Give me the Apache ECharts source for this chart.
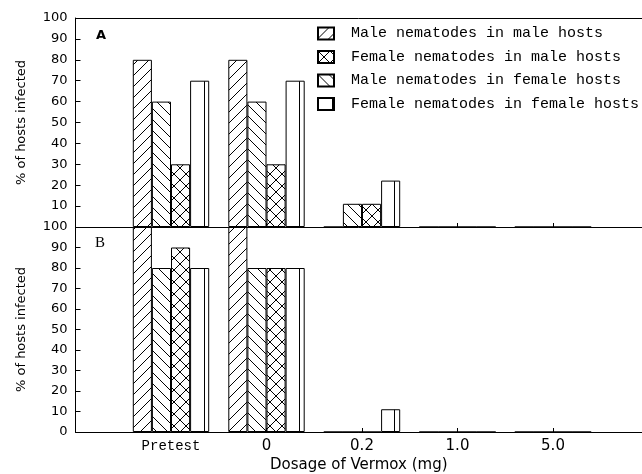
<!DOCTYPE html>
<html>
<head>
<meta charset="utf-8">
<script src="https://cdn.jsdelivr.net/npm/echarts@6/dist/echarts.min.js"></script>
<style>html,body{margin:0;padding:0;background:#fff}#c{width:642px;height:474px}</style>
</head>
<body>
<div id="c"></div>
<script>
// ---- data ----
const categories = ['Pretest', '0', '0.2', '1.0', '5.0'];
const seriesNames = [
  'Male nematodes in male hosts',
  'Female nematodes in male hosts',
  'Male nematodes in female hosts',
  'Female nematodes in female hosts'
];
// Panel A
const A_maleInMale     = [80, 80, 0, 0, 0];
const A_maleInFemale   = [60, 60, 11.1, 0, 0];
const A_femaleInMale   = [30, 30, 11.1, 0, 0];
const A_femaleInFemale = [70, 70, 22.2, 0, 0];
// Panel B
const B_maleInMale     = [100, 100, 0, 0, 0];
const B_maleInFemale   = [80, 80, 0, 0, 0];
const B_femaleInMale   = [90, 80, 0, 0, 0];
const B_femaleInFemale = [80, 80, 11.1, 0, 0];
const yTicks = [0, 10, 20, 30, 40, 50, 60, 70, 80, 90, 100];

// ---- patterns ----
function hatch(type) {
  const s = type === 'x' ? 12 : (type === 'v' ? 19 : 11);
  const c = document.createElement('canvas');
  c.width = s; c.height = s;
  const g = c.getContext('2d');
  g.fillStyle = '#fff'; g.fillRect(0, 0, s, s);
  g.strokeStyle = '#000'; g.lineWidth = 1;
  g.beginPath();
  if (type === '/' || type === 'x') {
    for (const k of [-s, 0, s]) { g.moveTo(k, s); g.lineTo(k + s, 0); }
  }
  if (type === '\\' || type === 'x') {
    for (const k of [-s, 0, s]) { g.moveTo(k, 0); g.lineTo(k + s, s); }
  }
  if (type === 'v') { g.moveTo(14.5, 0); g.lineTo(14.5, s); }
  g.stroke();
  return { image: c, repeat: 'repeat' };
}
const pats = {
  [seriesNames[0]]: hatch('/'),
  [seriesNames[1]]: hatch('x'),
  [seriesNames[2]]: hatch('\\'),
  [seriesNames[3]]: hatch('v')
};

const pts = arr => arr.map((v, i) => [i + 1, v]);
const catPos = categories.map((c, i) => i + 1);
function bar(name, arr, idx) {
  return {
    type: 'bar', name, data: pts(arr),
    xAxisIndex: idx, yAxisIndex: idx,
    barGap: '0%', barCategoryGap: '20%',
    itemStyle: { color: pats[name], borderColor: '#000', borderWidth: 1 },
    emphasis: { disabled: true }, silent: true
  };
}

const xMax = (642 - 75.5) / 95.5;
const sans = 'DejaVu Sans';
const mono = 'Liberation Mono';

function yAx(grid, hideZero) {
  return {
    type: 'value', gridIndex: grid, min: 0, max: 100, interval: 10,
    name: '% of hosts infected', nameLocation: 'middle', nameGap: 47,
    nameTextStyle: { fontFamily: sans, fontSize: 13, color: '#000' },
    axisLine: { show: true, lineStyle: { color: '#000', width: 1 } },
    axisTick: { show: true, inside: true, length: 5, lineStyle: { color: '#000' } },
    axisLabel: { fontFamily: sans, fontSize: 13, color: '#000', margin: 8,
      formatter: v => (hideZero && v === 0) ? '' : (yTicks.includes(v) ? String(v) : '') },
    splitLine: { show: false }
  };
}

const option = {
  animation: false,
  backgroundColor: '#fff',
  grid: [
    { left: 75.5, right: 0, top: 18, height: 209 },
    { left: 75.5, right: 0, top: 227, height: 211 }
  ],
  xAxis: [
    { type: 'value', gridIndex: 0, min: 0, max: xMax, interval: 1,
      axisLine: { show: true, lineStyle: { color: '#000' } },
      axisTick: { show: true, inside: true, length: 4, customValues: catPos, lineStyle: { color: '#000' } },
      axisLabel: { show: false }, splitLine: { show: false } },
    { type: 'value', gridIndex: 1, min: 0, max: xMax, interval: 1,
      name: 'Dosage of Vermox (mg)', nameLocation: 'middle', nameGap: 26,
      nameTextStyle: { fontFamily: sans, fontSize: 15, color: '#000' },
      axisLine: { show: true, lineStyle: { color: '#000' } },
      axisTick: { show: true, inside: true, length: 4, customValues: catPos, lineStyle: { color: '#000' } },
      axisLabel: { color: '#000', fontFamily: sans, fontSize: 15, margin: 7, customValues: catPos,
        formatter: v => {
          const c = categories[Math.round(v) - 1];
          if (c === undefined) return '';
          return c === 'Pretest' ? '{p|' + c + '}' : c;
        },
        rich: { p: { fontFamily: mono, fontSize: 14, color: '#000' } } },
      splitLine: { show: false } },
    { type: 'value', gridIndex: 0, position: 'top', min: 0, max: xMax,
      axisLine: { show: true, lineStyle: { color: '#000' } },
      axisTick: { show: false }, axisLabel: { show: false }, splitLine: { show: false } }
  ],
  yAxis: [yAx(0, true), yAx(1, false)],
  legend: {
    orient: 'vertical', left: 317, top: 26, padding: 0,
    itemWidth: 16, itemHeight: 12, itemGap: 8.5,
    icon: 'rect', data: seriesNames, selectedMode: false,
    formatter: n => '{t|' + n + '}',
    textStyle: { fontFamily: mono, fontSize: 15, color: '#000',
      rich: { t: { fontFamily: mono, fontSize: 15, color: '#000', padding: [0, 0, 0, 12] } } }
  },
  graphic: [
    { type: 'text', left: 96, top: 29, style: { text: 'A', font: 'bold 13px "DejaVu Sans"', fill: '#000' } },
    { type: 'text', left: 95, top: 236, style: { text: 'B', font: '15px "Liberation Serif"', fill: '#000' } }
  ],
  series: [
    bar(seriesNames[0], A_maleInMale, 0),
    bar(seriesNames[2], A_maleInFemale, 0),
    bar(seriesNames[1], A_femaleInMale, 0),
    bar(seriesNames[3], A_femaleInFemale, 0),
    bar(seriesNames[0], B_maleInMale, 1),
    bar(seriesNames[2], B_maleInFemale, 1),
    bar(seriesNames[1], B_femaleInMale, 1),
    bar(seriesNames[3], B_femaleInFemale, 1)
  ]
};
const chart = echarts.init(document.getElementById('c'), null, { renderer: 'canvas' });
chart.setOption(option);
</script>
</body>
</html>
